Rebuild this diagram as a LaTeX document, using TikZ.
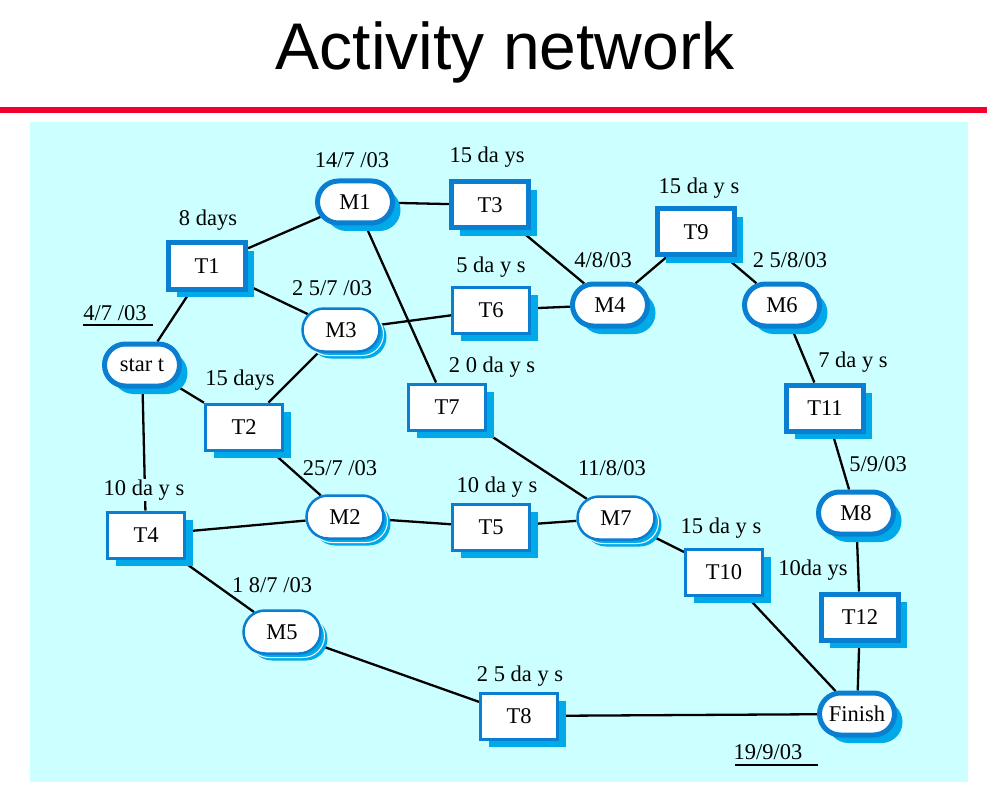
\documentclass[tikz,border=0pt]{standalone}
\usepackage{fontspec}
\setmainfont{Liberation Serif}
\newfontfamily\titlefont{Liberation Sans}
\usetikzlibrary{shapes.misc,shadows}
\pgfdeclarelayer{paper}
\pgfdeclarelayer{wires}
\pgfsetlayers{paper,wires,main}
\definecolor{panel}{HTML}{CCFFFF}
\definecolor{rim}{HTML}{0A7FD2}
\definecolor{shade}{HTML}{00AAE8}
\definecolor{rule}{HTML}{F2002E}
\tikzset{
  base/.style={fill=white, text=black, inner sep=0pt, font=\fontsize{22.5}{22.5}\selectfont},
  boxthick/.style={base, rectangle, draw=rim, line width=5pt, minimum width=77pt, minimum height=46pt,
    general shadow={shadow xshift=8pt, shadow yshift=-8pt, fill=shade, draw=none}},
  boxthin/.style={base, rectangle, draw=rim, line width=3pt, minimum width=77pt, minimum height=46pt,
    general shadow={shadow xshift=8pt, shadow yshift=-8pt, fill=shade, draw=none}},
  ovalthick/.style={base, rounded rectangle, draw=rim, line width=5pt, minimum width=75pt, minimum height=42pt,
    general shadow={shadow xshift=8pt, shadow yshift=-8pt, fill=shade, draw=none}},
  ovalthin/.style={base, rounded rectangle, draw=rim, line width=2.5pt, minimum width=77pt, minimum height=43pt,
    general shadow={shadow xshift=7pt, shadow yshift=-7pt, fill=shade, draw=none},
    general shadow={shadow xshift=4pt, shadow yshift=-4pt, fill=shade, draw=white, line width=1pt}},
  lbl/.style={font=\fontsize{22.5}{22.5}\selectfont, inner sep=1pt},
  link/.style={line width=2.3pt, black},
}
\begin{document}
\begin{tikzpicture}[x=1pt,y=-1pt]
\useasboundingbox (0,0) rectangle (987,794);
\begin{pgfonlayer}{paper}
\fill[white] (0,0) rectangle (987,794);
\fill[rule] (0,107.5) rectangle (987,113);
\fill[panel] (30,122) rectangle (968,782);
\end{pgfonlayer}
% heading
\node[font=\titlefont\fontsize{66}{66}\selectfont, anchor=base] (title) at (505,70) {Activity network};

% activity boxes and milestones
\node[ovalthick] (start) at (142,365) {star t};
\node[boxthick]  (T1) at (207,266) {T1};
\node[ovalthick] (M1) at (355,202) {M1};
\node[boxthick]  (T3) at (490,205) {T3};
\node[ovalthin]  (M3) at (341,330) {M3};
\node[boxthin]   (T6) at (491,310) {T6};
\node[ovalthick] (M4) at (610,305) {M4};
\node[boxthick]  (T9) at (696,232) {T9};
\node[ovalthick] (M6) at (782,305) {M6};
\node[boxthin]   (T2) at (244,427) {T2};
\node[boxthin]   (T7) at (447,407) {T7};
\node[boxthick]  (T11) at (825,408) {T11};
\node[boxthin]   (T4) at (146,535) {T4};
\node[ovalthin]  (M2) at (345,517) {M2};
\node[boxthin]   (T5) at (491,527) {T5};
\node[ovalthin]  (M7) at (616,518) {M7};
\node[ovalthick] (M8) at (856,513) {M8};
\node[boxthin]   (T10) at (724,572) {T10};
\node[boxthick]  (T12) at (860,617) {T12};
\node[ovalthin]  (M5) at (282,632) {M5};
\node[boxthin]   (T8) at (519,716) {T8};
\node[ovalthick] (Fin) at (857,714) {Finish};

% durations and dates
\node[lbl] (d1) at (352,160) {14/7 /03};
\node[lbl] (d3) at (487,157) {15 da ys};
\node[lbl] (dT1) at (208,220) {8 days};
\node[lbl] (dM3) at (332,288) {2 5/7 /03};
\node[lbl] (dT6) at (491,267) {5 da y s};
\node[lbl] (dM4) at (603,260) {4/8/03};
\node[lbl] (dT9) at (699,188) {15 da y s};
\node[lbl] (dM6) at (790,260) {2 5/8/03};
\node[lbl] (dS) at (115,313) {4/7 /03};
\node[lbl] (dT2) at (240,380) {15 days};
\node[lbl] (dT7) at (492,367) {2 0 da y s};
\node[lbl] (dT11) at (853,362) {7 da y s};
\node[lbl, fill=panel] (dT4) at (144,490) {10 da y s};
\node[lbl] (dM2) at (340,468) {25/7 /03};
\node[lbl] (dT5) at (497,487) {10 da y s};
\node[lbl] (dM7) at (612,468) {11/8/03};
\node[lbl] (dM8) at (878,464) {5/9/03};
\node[lbl] (dT10) at (721,528) {15 da y s};
\node[lbl] (dT12) at (813,570) {10da ys};
\node[lbl] (dM5) at (272,585) {1 8/7 /03};
\node[lbl] (dT8) at (520,676) {2 5 da y s};
\node[lbl] (dF) at (768,752) {19/9/03};

% underlined start and finish dates
\coordinate (uS1) at (83,325); \coordinate (uS2) at (153,325);
\coordinate (uF1) at (735,765); \coordinate (uF2) at (818,765);
\draw[line width=1.6pt] (uS1) -- (uS2);
\draw[line width=1.6pt] (uF1) -- (uF2);

% dependency links, drawn under the nodes
\begin{pgfonlayer}{wires}
\draw[link] (start) -- (T1);
\draw[link] (start) -- (T2);
\draw[link] (start) -- (T4);
\draw[link] (T1) -- (M1);
\draw[link] (T1) -- (M3);
\draw[link] (T2) -- (M3);
\draw[link] (T2) -- (M2);
\draw[link] (M1) -- (T3);
\draw[link] (M1) -- (T7);
\draw[link] (M3) -- (T6);
\draw[link] (T6) -- (M4);
\draw[link] (T3) -- (M4);
\draw[link] (M4) -- (T9);
\draw[link] (T9) -- (M6);
\draw[link] (M6) -- (T11);
\draw[link] (T11) -- (M8);
\draw[link] (M8) -- (T12);
\draw[link] (T12) -- (Fin);
\draw[link] (T7) -- (M7);
\draw[link] (T4) -- (M2);
\draw[link] (T4) -- (M5);
\draw[link] (M2) -- (T5);
\draw[link] (T5) -- (M7);
\draw[link] (M7) -- (T10);
\draw[link] (T10) -- (Fin);
\draw[link] (M5) -- (T8);
\draw[link] (T8) -- (Fin);
\end{pgfonlayer}
\end{tikzpicture}
\end{document}
